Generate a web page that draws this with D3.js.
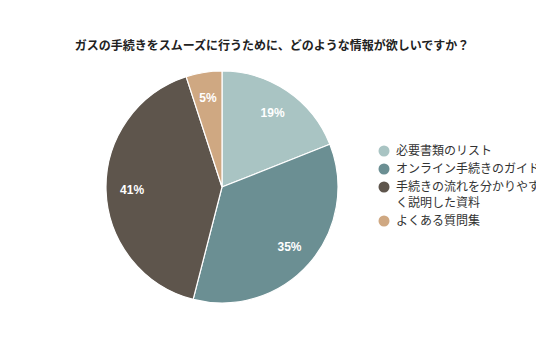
<!DOCTYPE html>
<html><head><meta charset="utf-8">
<script src="https://cdn.jsdelivr.net/npm/d3@7"></script>
<style>body{margin:0;background:#fff;font-family:"Noto Sans CJK JP","Noto Sans",sans-serif;}</style>
</head><body>
<svg id="c" width="536" height="357"></svg>
<script>
const categories = ["必要書類のリスト", "オンライン手続きのガイド", "手続きの流れを分かりやすく説明した資料", "よくある質問集"];
const values = [19, 35, 41, 5];
const colors = ["#a9c4c3", "#6b8f93", "#5e554c", "#cfa882"];
const legendLines = [["必要書類のリスト"], ["オンライン手続きのガイド"], ["手続きの流れを分かりやす", "く説明した資料"], ["よくある質問集"]];
const title = "ガスの手続きをスムーズに行うために、どのような情報が欲しいですか？";

const svg = d3.select("#c");
svg.append("text").attr("x", 272).attr("y", 50).attr("text-anchor", "middle")
  .attr("font-size", 12).attr("font-weight", "bold").attr("fill", "#222").text(title);

const cx = 222, cy = 187, r = 116;
const pie = d3.pie().sort(null).value(d => d)(values);
const arc = d3.arc().innerRadius(0).outerRadius(r);
const labelArc = d3.arc().innerRadius(90).outerRadius(90);
const g = svg.append("g").attr("transform", `translate(${cx},${cy})`);
g.selectAll("path").data(pie).join("path").attr("d", arc)
  .attr("fill", (d, i) => colors[i]).attr("stroke", "#fff").attr("stroke-width", 1.2);
g.selectAll("text").data(pie).join("text")
  .attr("transform", d => `translate(${labelArc.centroid(d)})`)
  .attr("text-anchor", "middle").attr("dy", "0.35em")
  .attr("font-size", 12).attr("font-weight", "bold").attr("fill", "#fff")
  .attr("font-family", "Arial, 'Liberation Sans', sans-serif")
  .text(d => d.data + "%");

const ys = [151, 169, 187, 221];
const lg = svg.append("g");
legendLines.forEach((lines, i) => {
  lg.append("circle").attr("cx", 384).attr("cy", ys[i]).attr("r", 5.5).attr("fill", colors[i]);
  lines.forEach((t, j) => {
    lg.append("text").attr("x", 396).attr("y", ys[i] + j * 16).attr("dy", "0.35em")
      .attr("font-size", 12).attr("fill", "#333").text(t);
  });
});
</script>
</body></html>
